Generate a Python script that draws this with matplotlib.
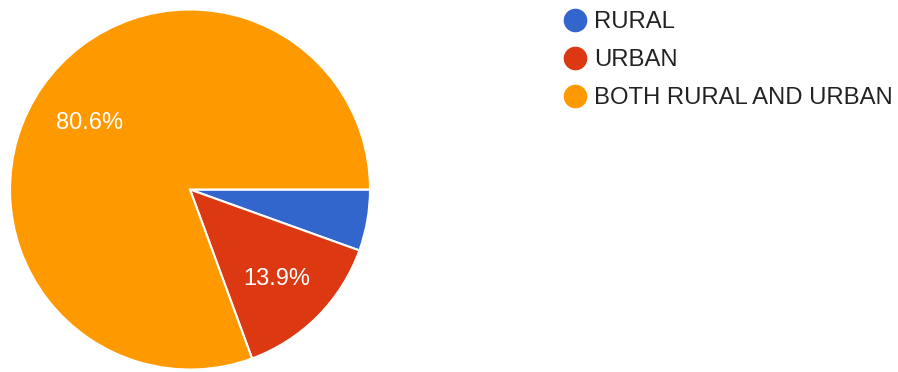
import matplotlib.pyplot as plt
from matplotlib.lines import Line2D

plt.rcParams['font.family'] = ['Liberation Sans', 'DejaVu Sans']

labels = ['RURAL', 'URBAN', 'BOTH RURAL AND URBAN']
shares = [5.5, 13.9, 80.6]
colors = ['#3366CC', '#DC3912', '#FF9900']

W, H = 898, 372
fig = plt.figure(figsize=(W / 100, H / 100), dpi=100)

# pie sits on the left, centre ~ (190, 189) px, radius ~180 px
ax = fig.add_axes([10 / W, (H - 369.5) / H, 360 / W, 360 / H])


def pct_label(p):
    return f'{p:.1f}%' if p >= 8 else ''


wedges, texts, autotexts = ax.pie(
    shares, colors=colors, startangle=0, counterclock=False,
    autopct=pct_label, pctdistance=0.68, radius=1.0,
    wedgeprops=dict(edgecolor='white', linewidth=1.5),
    textprops=dict(color='white', fontsize=17))
# nudge the percentage labels down a touch
for t in autotexts:
    x, y = t.get_position()
    t.set_position((x, y - 0.02))
ax.set_xlim(-1.0, 1.0)
ax.set_ylim(-1.0, 1.0)
ax.set_aspect('equal')
ax.axis('off')

handles = [Line2D([], [], marker='o', linestyle='none', markersize=16,
                  markerfacecolor=c, markeredgecolor=c) for c in colors]
fig.legend(handles, labels, loc='upper left',
           bbox_to_anchor=(563 / W, 1 - 11 / H), frameon=False,
           fontsize=17.2, handlelength=1.0, handletextpad=0.3,
           labelspacing=0.68, borderaxespad=0, borderpad=0,
           labelcolor='#222222')

fig.savefig('out.png', dpi=100)
